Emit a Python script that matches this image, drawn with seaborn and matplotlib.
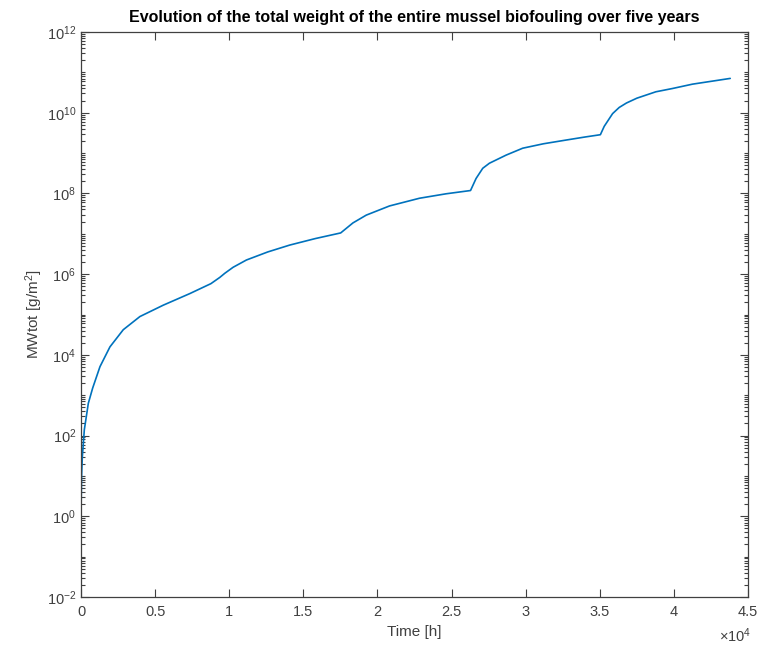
import numpy as np
import pandas as pd
import matplotlib
matplotlib.use("Agg")
import matplotlib.pyplot as plt
import matplotlib.ticker as mticker
import seaborn as sns

# Data (time in hours, total weight in g/m^2)
time_h = [0, 10, 40, 90, 225, 494, 786, 1280, 1954, 2852, 3975, 5546, 7343, 8578, 8760,
          9364, 9701, 10263, 11160, 12600, 14080, 15800, 17520,
          18347, 19245, 20817, 22838, 24636, 26280,
          26655, 27105, 27553, 28680, 29800, 31200, 32720, 34000, 35040,
          35300, 35638, 35865, 36311, 36800, 37500, 38783, 39904, 41253, 43800]
mwtot = [0.6, 2.0, 10.0, 30.0, 1.4e2, 6.3e2, 1.5e3, 5.1e3, 1.58e4, 4.2e4, 8.9e4, 1.7e5, 3.3e5, 5.4e5, 5.8e5,
         8.3e5, 1.05e6, 1.48e6, 2.24e6, 3.55e6, 5.25e6, 7.6e6, 1.05e7,
         1.86e7, 2.9e7, 4.9e7, 7.6e7, 9.8e7, 1.18e8,
         2.35e8, 4.2e8, 5.6e8, 8.9e8, 1.32e9, 1.7e9, 2.1e9, 2.5e9, 2.85e9,
         4.6e9, 7.1e9, 9.5e9, 1.35e10, 1.74e10, 2.29e10, 3.3e10, 3.98e10, 5.1e10, 7.08e10]

title_text = "Evolution of the total weight of the entire mussel biofouling over five years"
xlabel_text = "Time [h]"
ylabel_text = "MWtot [g/m$^2$]"
xtick_vals = [0, 5000, 10000, 15000, 20000, 25000, 30000, 35000, 40000, 45000]
xtick_labels = ["0", "0.5", "1", "1.5", "2", "2.5", "3", "3.5", "4", "4.5"]
ytick_exps = [-2, 0, 2, 4, 6, 8, 10, 12]

sns.set_style("ticks")
plt.rcParams['font.family'] = ['Liberation Sans', 'DejaVu Sans']
plt.rcParams['mathtext.fontset'] = 'custom'
plt.rcParams['mathtext.rm'] = 'Liberation Sans'
plt.rcParams['mathtext.it'] = 'Liberation Sans:italic'

gray = '#404040'
fig = plt.figure(figsize=(7.68, 6.52), dpi=100)
ax = fig.add_axes([81/768, 1-597/652, (748-81)/768, (597-32)/652])

df = pd.DataFrame({"t": time_h, "w": mwtot})
sns.lineplot(data=df, x="t", y="w", ax=ax, color="#0072BD", linewidth=1.2)

ax.set_yscale('log')
ax.set_xlim(0, 45000)
ax.set_ylim(1e-2, 1e12)
ax.set_xticks(xtick_vals)
ax.set_xticklabels(xtick_labels)
ax.set_yticks([10.0**e for e in ytick_exps])
ax.set_yticklabels([f"$10^{{{e}}}$" for e in ytick_exps])
ax.yaxis.set_minor_locator(mticker.LogLocator(base=10, subs=np.arange(1, 10), numticks=100))
ax.yaxis.set_minor_formatter(mticker.NullFormatter())

ax.tick_params(axis='both', which='both', direction='in', top=True, right=True,
               colors=gray, labelcolor=gray, labelsize=10.5, width=0.8)
ax.tick_params(axis='both', which='major', length=6)
ax.tick_params(axis='y', which='minor', length=3)
ax.tick_params(axis='x', which='major', pad=6)
for s in ax.spines.values():
    s.set_visible(True)
    s.set_color(gray)
    s.set_linewidth(0.9)

ax.set_xlabel(xlabel_text, fontsize=11, color=gray, labelpad=4)
ax.set_ylabel(ylabel_text, fontsize=11, color=gray, labelpad=1)
ax.set_title(title_text, fontsize=11.5, fontweight='bold', color='black', pad=7)
ax.annotate(r"$\times10^{4}$", xy=(735/768, 1-645/652), xycoords='figure fraction',
            ha='center', va='bottom', fontsize=10.5, color=gray)

fig.savefig("out.png", dpi=100, facecolor='white')
